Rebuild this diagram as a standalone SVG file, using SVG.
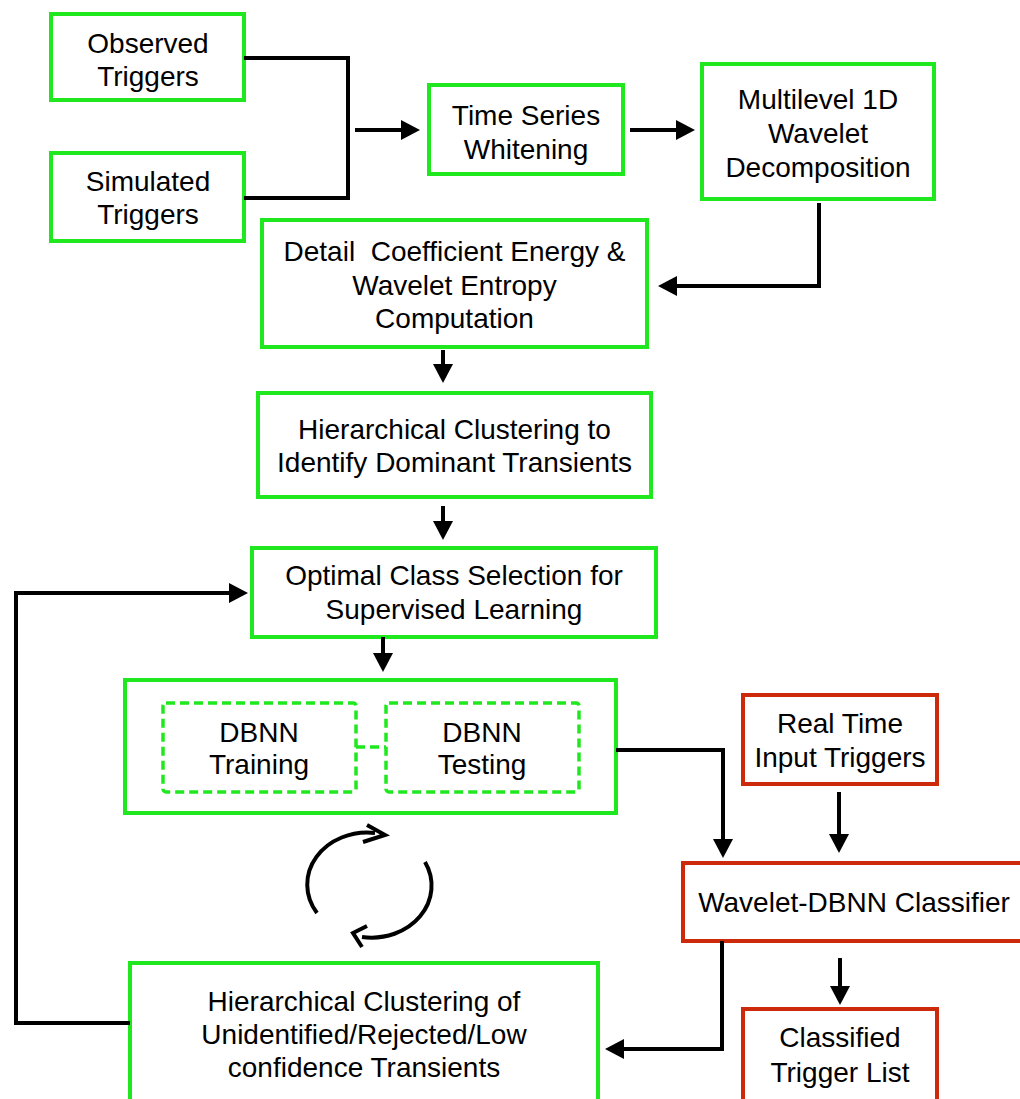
<svg xmlns="http://www.w3.org/2000/svg" width="1020" height="1099" viewBox="0 0 1020 1099">
<style>
.g{fill:#fff;stroke:#1fe81f;stroke-width:4}
.r{fill:#fff;stroke:#cc2a0a;stroke-width:4}
.d{fill:none;stroke:#1fe81f;stroke-width:3.5;stroke-dasharray:9 5}
.t{font-family:"Liberation Sans",Arial,Helvetica,sans-serif;font-size:28px;fill:#000;text-anchor:middle}
.c{fill:none;stroke:#000;stroke-width:4;stroke-linejoin:miter}
.a{marker-end:url(#ah)}
</style>
<defs>
<marker id="ah" viewBox="0 0 19 20" markerWidth="19" markerHeight="20" refX="7" refY="10" orient="auto" markerUnits="userSpaceOnUse">
<path d="M0,0 L19,10 L0,20 Z" fill="#000"/>
</marker>
</defs>
<g id="observed"><rect class="g" x="51" y="14" width="193" height="86"/><text class="t" x="148"><tspan x="148" y="53">Observed</tspan><tspan x="148" y="86">Triggers</tspan></text></g>
<g id="simulated"><rect class="g" x="51" y="153" width="193" height="88"/><text class="t"><tspan x="148" y="191">Simulated</tspan><tspan x="148" y="224">Triggers</tspan></text></g>
<g id="whitening"><rect class="g" x="429" y="85" width="194" height="89"/><text class="t"><tspan x="526" y="125">Time Series</tspan><tspan x="526" y="159">Whitening</tspan></text></g>
<g id="wavelet"><rect class="g" x="702" y="64" width="232" height="135"/><text class="t"><tspan x="818" y="109">Multilevel 1D</tspan><tspan x="818" y="143">Wavelet</tspan><tspan x="818" y="177">Decomposition</tspan></text></g>
<g id="energy"><rect class="g" x="262" y="220" width="385" height="127"/><text class="t" xml:space="preserve" style="white-space:pre"><tspan x="454.5" y="261">Detail  Coefficient Energy &amp;</tspan><tspan x="454.5" y="295">Wavelet Entropy</tspan><tspan x="454.5" y="328">Computation</tspan></text></g>
<g id="hier1"><rect class="g" x="258" y="393" width="393" height="104"/><text class="t"><tspan x="454.5" y="439">Hierarchical Clustering to</tspan><tspan x="454.5" y="472">Identify Dominant Transients</tspan></text></g>
<g id="optimal"><rect class="g" x="252" y="548" width="404" height="89"/><text class="t"><tspan x="454" y="585">Optimal Class Selection for</tspan><tspan x="454" y="619">Supervised Learning</tspan></text></g>
<g id="dbnn"><rect class="g" x="125" y="680" width="491" height="133"/>
<g id="training"><rect class="d" x="163" y="703" width="193" height="89" rx="3"/><text class="t"><tspan x="259" y="742">DBNN</tspan><tspan x="259" y="774">Training</tspan></text></g>
<g id="testing"><rect class="d" x="386" y="703" width="193" height="89" rx="3"/><text class="t"><tspan x="482" y="742">DBNN</tspan><tspan x="482" y="774">Testing</tspan></text></g>
</g>
<g id="realtime"><rect class="r" x="743" y="695" width="194" height="89"/><text class="t"><tspan x="840" y="733">Real Time</tspan><tspan x="840" y="767">Input Triggers</tspan></text></g>
<g id="classifier"><rect class="r" x="683" y="863" width="360" height="78"/><text class="t" x="854" y="912">Wavelet-DBNN Classifier</text></g>
<g id="classified"><rect class="r" x="743" y="1009" width="194" height="110"/><text class="t"><tspan x="840" y="1047">Classified</tspan><tspan x="840" y="1082">Trigger List</tspan></text></g>
<g id="hier2"><rect class="g" x="130" y="963" width="468" height="160"/><text class="t"><tspan x="364" y="1011">Hierarchical Clustering of</tspan><tspan x="364" y="1044">Unidentified/Rejected/Low</tspan><tspan x="364" y="1077">confidence Transients</tspan></text></g>
<g id="connectors">
<polyline class="c" points="244,58 348,58 348,198 244,198"/>
<line class="c a" x1="355" y1="130" x2="408" y2="130"/>
<line class="c a" x1="630" y1="130" x2="683" y2="130"/>
<polyline class="c a" points="819,203 819,286 670,286"/>
<line class="c a" x1="443" y1="350" x2="443" y2="371"/>
<line class="c a" x1="443" y1="506" x2="443" y2="528"/>
<line class="c a" x1="383" y1="637" x2="383" y2="660"/>
<polyline class="c a" points="616,750 723,750 723,846"/>
<line class="c a" x1="839" y1="792" x2="839" y2="841"/>
<line class="c a" x1="840" y1="958" x2="840" y2="993"/>
<polyline class="c a" points="722,941 722,1049 617,1049"/>
<polyline class="c a" points="130,1023 16,1023 16,593 236,593"/>
<line class="d" x1="356" y1="747" x2="386" y2="747"/>
<path class="c" d="M317,913 A60,52 0 0 1 375,833"/>
<polyline class="c" points="367,825 385,835 363,842"/>
<path class="c" d="M425,862 A60,52 0 0 1 362,937"/>
<polyline class="c" points="367,926 353,933 362,947"/>
</g>
</svg>
